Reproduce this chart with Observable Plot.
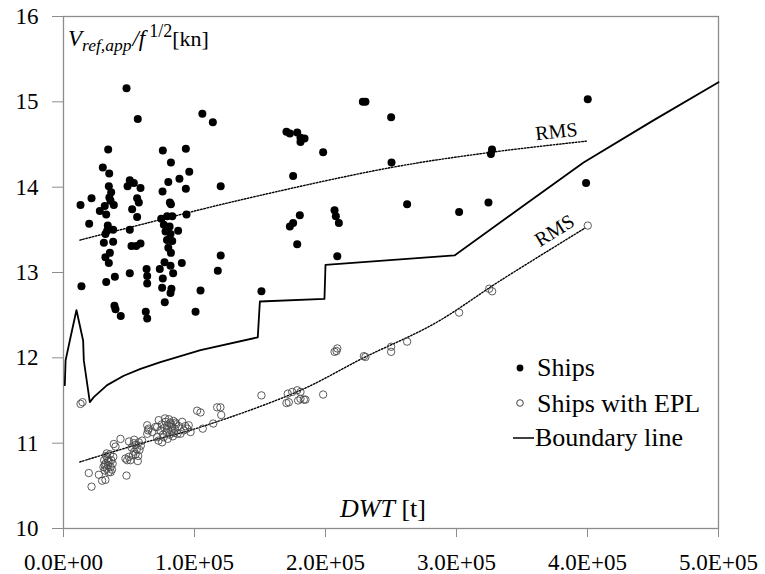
<!DOCTYPE html>
<html>
<head>
<meta charset="utf-8">
<script src="https://cdn.jsdelivr.net/npm/d3@7"></script>
<script src="https://cdn.jsdelivr.net/npm/@observablehq/plot@0.6"></script>
<style>
  html, body { margin: 0; padding: 0; background: white; }
  svg { display: block; }
</style>
</head>
<body>
<div id="chart"></div>
<script>
// ---- data (DWT in thousands of tonnes, V in knots) ----
const ships = [
  [48.1,15.16],[56.7,14.80],[34.1,14.44],[75.8,14.43],[93.4,14.45],[106,14.86],[114,14.76],[82,14.29],
  [30,14.23],[34.9,14.16],[96,14.18],[88.5,14.10],[80,14.06],[120,14.01],[50.6,14.08],[48.9,14.01],
  [53.7,14.05],[58.8,13.99],[34.6,14.01],[36.4,13.94],[75.6,13.95],[93.4,13.98],[21.4,13.87],[13,13.79],
  [35.9,13.84],[38.4,13.79],[56.2,13.87],[57.5,13.82],[81.2,13.82],[82,13.80],[52.4,13.74],[27.7,13.72],
  [32.6,13.68],[56.2,13.65],[93.9,13.68],[74.6,13.63],[79.1,13.66],[83,13.66],[19.6,13.57],[76.6,13.56],
  [81,13.54],[33.3,13.49],[37.9,13.50],[50.6,13.50],[77.9,13.48],[81.7,13.45],[87.5,13.49],[32,13.45],
  [30.8,13.35],[37.9,13.36],[51.9,13.31],[58.8,13.34],[55.5,13.31],[83,13.37],[79,13.38],[80,13.29],
  [82,13.23],[32,13.18],[35.4,13.23],[34.6,13.11],[120,13.20],[117.8,13.02],[90.3,13.11],[77.1,13.12],
  [73.5,13.04],[81.7,13.08],[83.7,12.99],[63.4,13.04],[63.9,12.96],[50.6,12.99],[39.2,12.95],[32.6,12.89],
  [63.9,12.87],[75.8,12.93],[13.7,12.84],[75.3,12.82],[82.4,12.81],[81.7,12.76],[104.6,12.79],[77.3,12.65],
  [38.9,12.61],[39.7,12.57],[43.7,12.49],[62.8,12.54],[63.9,12.46],[100.8,12.54],[31.5,13.78],[35,13.88],
  [33.8,13.55],
  [228.5,15.0],[230.5,15.0],[250.1,14.82],[400.2,15.03],[170.2,14.65],[172.8,14.63],[178.4,14.64],
  [180.9,14.58],[184,14.57],[180.9,14.53],[198.2,14.41],[175.3,14.13],[250.4,14.29],[327.1,14.44],
  [326.3,14.39],[262.3,13.80],[302,13.71],[324.4,13.82],[398.9,14.05],[180.4,13.67],[175.3,13.58],
  [172.8,13.54],[206.9,13.73],[207.9,13.66],[210.2,13.58],[178.4,13.33],[209,13.19],[151.1,12.78]
];
const shipsEPL = [
  [13,11.46],[14.5,11.48],[19.3,10.65],[21.4,10.49],[27,10.63],[29.5,10.56],[32,10.57],[48.1,10.62],
  [30.5,10.72],[31,10.80],[31.5,10.68],[32,10.76],[32.5,10.85],[33,10.70],[33.5,10.82],[34,10.74],
  [34.5,10.66],[35,10.78],[35.5,10.87],[36,10.72],[36.5,10.80],[37,10.69],[37.5,10.76],[38,10.84],
  [33,10.88],[36,10.66],[34,10.79],[31.5,10.74],[38.4,10.99],[39.7,10.96],[43.5,11.05],
  [47.3,10.82],[49.9,10.84],[48.6,10.80],[51.1,10.80],
  [50,11.02],[53.7,11.00],[57.5,11.01],[60,11.03],[52,10.95],[54,10.90],[55,10.87],[56,10.93],
  [58,10.92],[53,10.86],[57,10.85],[59,10.97],[55,10.98],[56.7,10.79],[54,11.04],
  [63.9,11.21],[65,11.17],[63.9,11.11],[67.7,11.13],[70.2,11.19],[64.5,11.15],
  [71.5,11.07],[72.5,11.03],[75.3,11.01],
  [72.7,11.27],[71.5,11.19],[74,11.15],[75,11.22],[76,11.10],[77,11.18],[78,11.25],[78.5,11.13],
  [79,11.20],[80,11.16],[80.5,11.28],[81,11.10],[82,11.22],[82.5,11.14],[83,11.19],[84,11.26],
  [84.5,11.12],[85,11.17],[86,11.22],[87,11.11],[76.5,11.07],[79.5,11.05],[81.5,11.24],[77.5,11.29],
  [83.5,11.08],[85.5,11.24],[88,11.20],[89.3,11.11],[91.8,11.15],[93,11.20],[95.6,11.21],[97,11.13],
  [90.6,11.25],[94.4,11.17],
  [102,11.38],[104.6,11.36],[106.3,11.17],[114.3,11.23],[117.3,11.42],[119.8,11.42],[120.4,11.33],
  [151.1,11.56],[171.2,11.58],[174.6,11.60],[178.4,11.62],[180.9,11.60],[170.2,11.47],[172,11.48],
  [179.1,11.50],[180.9,11.52],[183.5,11.51],[184.7,11.51],[198.2,11.57],
  [206.9,12.07],[209,12.11],[208.4,12.08],[229.3,12.02],[230.5,12.01],[250.1,12.13],[250.1,12.07],
  [262.3,12.19],[302,12.53],[325,12.81],[327.2,12.78],[400.2,13.55]
];
const boundary = [
  [1,11.68],[1.6,11.97],[4.8,12.2],[9.9,12.56],[15,12.2],[15.5,11.97],[20.1,11.48],[23.1,11.54],
  [33.3,11.68],[46,11.79],[58.8,11.87],[74,11.95],[104.6,12.09],[148.3,12.24],[149.9,12.66],
  [199.2,12.69],[200,13.09],[298.5,13.2],[350,13.77],[397,14.29],[450,14.78],[500,15.23]
];
const rmsShips = [[12.5,13.38],[51,13.53],[135,13.85],[250,14.23],[327,14.41],[399.7,14.54]];
const rmsEPL = [[12.5,10.78],[60,11.0],[105,11.19],[181,11.62],[229,12.0],[283,12.4],[334,12.91],[398,13.52]];
const xTicks = [0, 100000, 200000, 300000, 400000, 500000];
const xTickLabels = ["0.0E+00","1.0E+05","2.0E+05","3.0E+05","4.0E+05","5.0E+05"];
const yTicks = [10, 11, 12, 13, 14, 15, 16];
const legendLabels = ["Ships", "Ships with EPL", "Boundary line"];
const rmsLabel = "RMS";

const toRows = a => a.map(([k, v]) => ({dwt: k * 1000, v}));
const font = "'Liberation Serif', 'Times New Roman', serif";

const chart = Plot.plot({
  width: 765,
  height: 574,
  marginLeft: 63,
  marginRight: 47,
  marginTop: 16,
  marginBottom: 46,
  x: {domain: [0, 500000]},
  y: {domain: [10, 16]},
  style: {fontFamily: font, background: "white", color: "black"},
  marks: [
    Plot.frame({stroke: "#8c8c8c", strokeWidth: 1.3}),
    Plot.axisY({ticks: yTicks, tickSize: 11, tickPadding: 14, fontSize: 23, fontFamily: font, stroke: "#8c8c8c",
      label: null, tickFormat: d => String(d)}),
    Plot.axisX({ticks: xTicks, tickSize: 9, tickPadding: 16, fontSize: 23, fontFamily: font, stroke: "#8c8c8c",
      label: null, tickFormat: d => xTickLabels[xTicks.indexOf(d)]}),
    Plot.line(toRows(rmsShips), {x: "dwt", y: "v", stroke: "black", strokeWidth: 1.4, strokeDasharray: "1.5,1.7", curve: "catmull-rom"}),
    Plot.line(toRows(rmsEPL), {x: "dwt", y: "v", stroke: "black", strokeWidth: 1.4, strokeDasharray: "1.5,1.7", curve: "catmull-rom"}),
    Plot.line(toRows(boundary), {x: "dwt", y: "v", stroke: "black", strokeWidth: 1.8}),
    Plot.dot(toRows(shipsEPL), {x: "dwt", y: "v", r: 3.7, stroke: "#4a4a4a", strokeWidth: 0.9, fill: "none"}),
    Plot.dot(toRows(ships), {x: "dwt", y: "v", r: 4, fill: "black", stroke: "none"})
  ]
});

document.getElementById("chart").appendChild(chart);

const svg = d3.select(chart);
const txt = (sel, size) => sel.style("font-family", font).style("font-size", size + "px").attr("fill", "black");

// y-axis label
const yl = txt(svg.append("text").attr("x", 68).attr("y", 46).attr("text-anchor", "start"), 23);
yl.append("tspan").style("font-style", "italic").text("V");
yl.append("tspan").style("font-style", "italic").style("font-size", "17.5px").attr("dy", 5).text("ref,app");
yl.append("tspan").style("font-style", "italic").attr("dy", -5).attr("dx", 1).text("/f");
yl.append("tspan").style("font-size", "18px").attr("dy", -9).attr("dx", 4).text("1/2");
yl.append("tspan").style("font-size", "22px").attr("dy", 9).text("[kn]");

// x-axis label
const xl = txt(svg.append("text").attr("x", 340).attr("y", 517).attr("text-anchor", "start"), 26);
xl.append("tspan").style("font-style", "italic").text("DWT");
xl.append("tspan").text(" [t]");

// RMS labels
txt(svg.append("text").attr("transform", "translate(557,138) rotate(-6)").attr("text-anchor", "middle"), 20).text(rmsLabel);
txt(svg.append("text").attr("transform", "translate(558,236) rotate(-32)").attr("text-anchor", "middle"), 20).text(rmsLabel);

// legend
const lg = svg.append("g");
lg.append("circle").attr("cx", 520).attr("cy", 368).attr("r", 3.4).attr("fill", "black");
txt(lg.append("text").attr("x", 537).attr("y", 376).attr("text-anchor", "start"), 26).text(legendLabels[0]);
lg.append("circle").attr("cx", 520).attr("cy", 403).attr("r", 3.3).attr("fill", "none").attr("stroke", "#444").attr("stroke-width", 1);
txt(lg.append("text").attr("x", 537).attr("y", 411.5).attr("text-anchor", "start"), 26).text(legendLabels[1]);
lg.append("line").attr("x1", 513).attr("x2", 534).attr("y1", 438).attr("y2", 438).attr("stroke", "black").attr("stroke-width", 1.5);
txt(lg.append("text").attr("x", 535).attr("y", 446).attr("text-anchor", "start"), 26).text(legendLabels[2]);
</script>
</body>
</html>
